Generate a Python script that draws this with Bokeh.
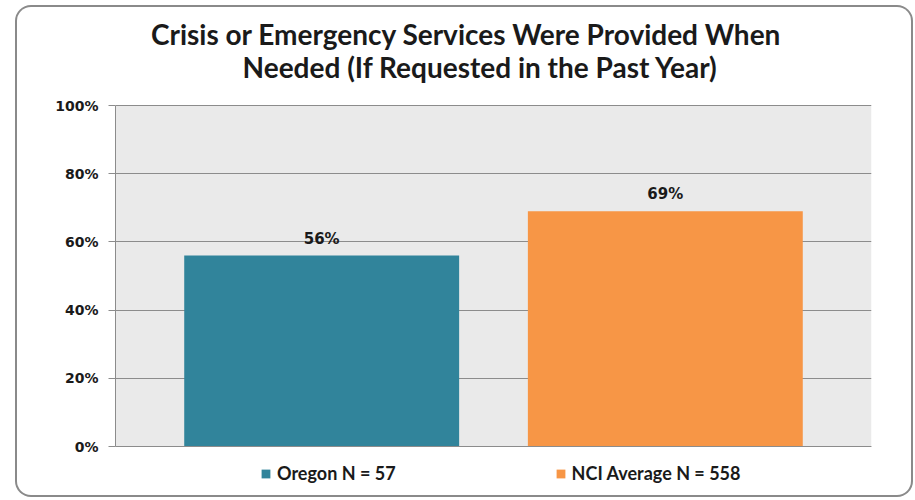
from bokeh.plotting import figure
from bokeh.models import (Range1d, FixedTicker, NumeralTickFormatter, Legend, LegendItem,
                          ColumnDataSource, Label, Span, BoxAnnotation)
from bokeh.core.properties import value
from bokeh.embed import file_html
from bokeh.resources import INLINE

# ---- data ----
title_lines = ["Crisis or Emergency Services Were Provided When",
               "Needed (If Requested in the Past Year)"]
categories = ["Oregon N = 57", "NCI Average N = 558"]
values = [0.56, 0.69]
value_labels = ["56%", "69%"]
colors = ["#31849b", "#f79646"]
y_ticks = [0, 0.2, 0.4, 0.6, 0.8, 1.0]

xs = [i + 1 for i in range(len(categories))]
src = ColumnDataSource(dict(x=xs, top=values, lab=value_labels, color=colors, cat=categories))

# The frame spans the full canvas height so that title and legend (drawn inside it) are not clipped.
# 341 px per unit of y: 0 at 49 px above the canvas bottom, canvas 488 px tall.
X0, X1 = 0.4, 2.6
Y0, Y1 = -49 / 341, 439 / 341
p = figure(width=894, height=488, output_backend="svg", toolbar_location=None,
           x_range=Range1d(X0, X1), y_range=Range1d(Y0, Y1), x_axis_location=None)
p.frame_width = 756
p.frame_height = 488
p.min_border_left = 98
p.min_border_right = 40
p.min_border_top = 0
p.min_border_bottom = 0
p.background_fill_color = None
p.border_fill_color = None
p.outline_line_color = None
p.title.visible = False
# canvas shifted visually to (17,7); a 2px rounded ring drawn round it as the chart border
p.styles = {"position": "relative", "left": "17px", "top": "7px",
            "box-shadow": "0 0 0 2px #8a8a8a", "border-radius": "14px"}

# grey plot area (0..100%)
p.add_layout(BoxAnnotation(left=X0, right=X1, bottom=0, top=1, fill_color="#eaeaea",
                           fill_alpha=1, line_color=None, level="image"))

bars = p.vbar(x="x", top="top", width=0.8, bottom=0, color="color", line_color=None, source=src)

p.text(x="x", y="top", text="lab", source=src, y_offset=-17,
       text_align="center", text_baseline="middle",
       text_font=value("DejaVu Sans"), text_font_style="bold", text_font_size="15px",
       text_color="#1a1a1a")

# axes / grid
p.xgrid.visible = False
p.ygrid.ticker = FixedTicker(ticks=y_ticks)
p.ygrid.grid_line_color = "#8c8c8c"
p.ygrid.grid_line_width = 1
yax = p.yaxis[0]
yax.ticker = FixedTicker(ticks=y_ticks)
yax.bounds = (0, 1)
yax.formatter = NumeralTickFormatter(format="0%")
yax.axis_line_color = "#8c8c8c"
yax.major_tick_line_color = "#8c8c8c"
yax.major_tick_out = 7
yax.major_tick_in = 0
yax.minor_tick_line_color = None
yax.major_label_standoff = 10
yax.major_label_text_font = "DejaVu Sans"
yax.major_label_text_font_style = "bold"
yax.major_label_text_font_size = "14px"
yax.major_label_text_color = "#1a1a1a"

p.add_layout(Span(location=0, dimension="width", line_color="#8c8c8c", line_width=1))

# title (two centred lines, screen px from the frame's bottom-left)
title_pos = [(351, 462), (365, 429)]
for line, (tx, ty) in zip(title_lines, title_pos):
    p.add_layout(Label(x=tx, y=ty, x_units="screen", y_units="screen", text=line,
                       text_align="center", text_baseline="middle",
                       text_font="Lato", text_font_style="bold", text_font_size="28px",
                       text_color="#1a1a1a"))

legend = Legend(items=[LegendItem(label=c, renderers=[bars], index=i) for i, c in enumerate(categories)],
                location=(145, 11), orientation="horizontal",
                padding=0, margin=0, spacing=159, border_line_color=None, background_fill_alpha=0,
                glyph_width=11, glyph_height=11, label_standoff=6, label_height=20,
                label_text_font="Lato", label_text_font_style="bold",
                label_text_font_size="18px", label_text_color="#1a1a1a")
p.add_layout(legend, "center")

open("out.html", "w").write(file_html(p, INLINE))
